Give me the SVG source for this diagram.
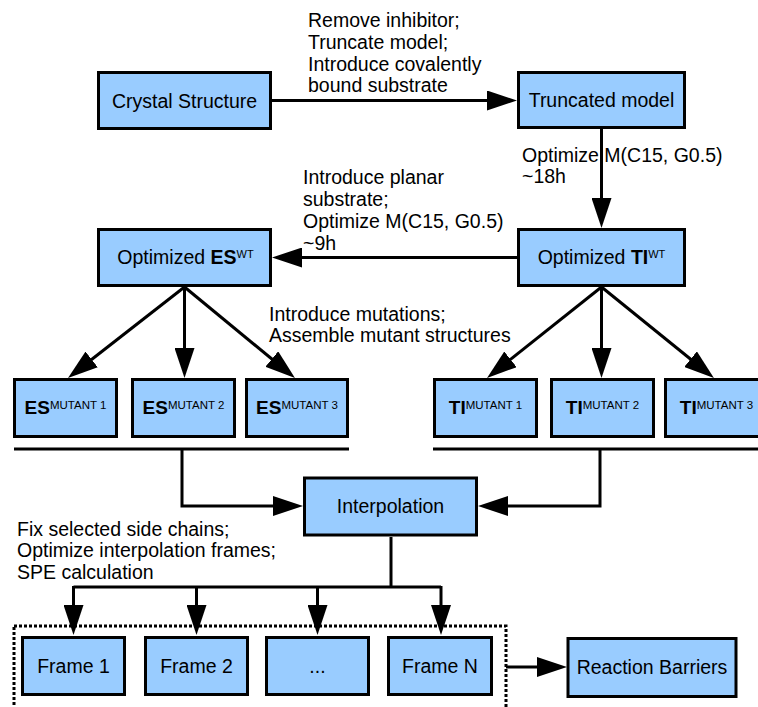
<svg xmlns="http://www.w3.org/2000/svg" width="758" height="707" viewBox="0 0 758 707">
<style>
text{font-family:"Liberation Sans",Arial,Helvetica,sans-serif;font-size:19.5px;fill:#000}
.box{fill:#99ccff;stroke:#000;stroke-width:3}
.lbl{text-anchor:middle}
.b{font-weight:bold}
.sup{font-size:11px}
.msup{font-size:11.5px}
.mb{font-weight:bold;font-size:19px}
.c{fill:none;stroke:#000;stroke-width:3}
.arr{marker-end:url(#ah)}
.dot{fill:none;stroke:#000;stroke-width:3;stroke-dasharray:3 2}
</style>
<defs>
<marker id="ah" viewBox="0 0 30 20" markerWidth="30" markerHeight="20" refX="22" refY="10" orient="auto" markerUnits="userSpaceOnUse">
<path d="M0,0 L30,10 L0,20 z" fill="#000"/>
</marker>
</defs>

<g id="connectors">
<path class="c arr" d="M272,100.5 H509"/>
<path class="c arr" d="M601.5,129 V220"/>
<path class="c arr" d="M517,257.5 H280"/>
<path class="c arr" d="M184.5,287 L74.3,373"/>
<path class="c arr" d="M184.5,287 V370"/>
<path class="c arr" d="M184.5,287 L288.8,373"/>
<path class="c arr" d="M601.5,287 L493.3,373"/>
<path class="c arr" d="M601.5,287 V370"/>
<path class="c arr" d="M601.5,287 L707.7,373"/>
<path class="c" d="M14,449 H349"/>
<path class="c" d="M433,449 H758"/>
<path class="c arr" d="M182,449 V506 H295"/>
<path class="c arr" d="M600,449 V506 H486"/>
<path class="c" d="M391,537 V587"/>
<path class="c" d="M73.5,587 H441"/>
<path class="c arr" d="M73.5,586 V627"/>
<path class="c arr" d="M196.5,586 V627"/>
<path class="c arr" d="M317.5,586 V627"/>
<path class="c arr" d="M441,586 V627"/>
<path class="c arr" d="M506,667 H559"/>
<rect class="dot" x="14" y="626" width="492" height="100"/>
</g>

<g id="edge-labels">
<text x="308" y="27">Remove inhibitor;</text>
<text x="308" y="49">Truncate model;</text>
<text x="308" y="70.5">Introduce covalently</text>
<text x="308" y="92">bound substrate</text>
<text x="522" y="162">Optimize M(C15, G0.5)</text>
<text x="522" y="183">~18h</text>
<text x="303" y="184">Introduce planar</text>
<text x="303" y="206">substrate;</text>
<text x="303" y="228">Optimize M(C15, G0.5)</text>
<text x="303" y="249.5">~9h</text>
<text x="269" y="320.5">Introduce mutations;</text>
<text x="269" y="342">Assemble mutant structures</text>
<text x="17" y="535.5">Fix selected side chains;</text>
<text x="17" y="557">Optimize interpolation frames;</text>
<text x="17" y="579">SPE calculation</text>
</g>

<g id="crystal"><rect class="box" x="98.5" y="72.5" width="172" height="56"/><text class="lbl" x="184.5" y="107.5">Crystal Structure</text></g>
<g id="truncated"><rect class="box" x="518.5" y="72.5" width="166" height="55"/><text class="lbl" x="601.5" y="107">Truncated model</text></g>
<g id="es-wt"><rect class="box" x="98.5" y="229.5" width="172" height="56"/><text class="lbl" x="185.5" y="263.5">Optimized <tspan class="b">ES</tspan><tspan class="sup" dy="-6">WT</tspan></text></g>
<g id="ti-wt"><rect class="box" x="518.5" y="229.5" width="166" height="56"/><text class="lbl" x="601.5" y="263.5">Optimized <tspan class="b">TI</tspan><tspan class="sup" dy="-6">WT</tspan></text></g>

<g id="es-m1"><rect class="box" x="14.5" y="379.5" width="102" height="57"/><text class="lbl" x="65.5" y="414"><tspan class="mb">ES</tspan><tspan class="msup" dy="-5">MUTANT 1</tspan></text></g>
<g id="es-m2"><rect class="box" x="132.5" y="379.5" width="102" height="57"/><text class="lbl" x="183.5" y="414"><tspan class="mb">ES</tspan><tspan class="msup" dy="-5">MUTANT 2</tspan></text></g>
<g id="es-m3"><rect class="box" x="246.5" y="379.5" width="101" height="57"/><text class="lbl" x="297" y="414"><tspan class="mb">ES</tspan><tspan class="msup" dy="-5">MUTANT 3</tspan></text></g>
<g id="ti-m1"><rect class="box" x="434.5" y="379.5" width="102" height="57"/><text class="lbl" x="485.5" y="414"><tspan class="mb">TI</tspan><tspan class="msup" dy="-5">MUTANT 1</tspan></text></g>
<g id="ti-m2"><rect class="box" x="551.5" y="379.5" width="102" height="57"/><text class="lbl" x="602.5" y="414"><tspan class="mb">TI</tspan><tspan class="msup" dy="-5">MUTANT 2</tspan></text></g>
<g id="ti-m3"><rect class="box" x="665.5" y="379.5" width="102" height="57"/><text class="lbl" x="716.5" y="414"><tspan class="mb">TI</tspan><tspan class="msup" dy="-5">MUTANT 3</tspan></text></g>

<g id="interpolation"><rect class="box" x="304.5" y="478" width="172" height="57"/><text class="lbl" x="390.5" y="513">Interpolation</text></g>

<g id="frame1"><rect class="box" x="22.5" y="637.5" width="102" height="57"/><text class="lbl" x="73.5" y="672.5">Frame 1</text></g>
<g id="frame2"><rect class="box" x="145.5" y="637.5" width="102" height="57"/><text class="lbl" x="196.5" y="672.5">Frame 2</text></g>
<g id="frame-dots"><rect class="box" x="266.5" y="637.5" width="102" height="57"/><text class="lbl" x="317.5" y="672.5">...</text></g>
<g id="frameN"><rect class="box" x="388.5" y="637.5" width="103" height="57"/><text class="lbl" x="440" y="672.5">Frame N</text></g>
<g id="barriers"><rect class="box" x="568" y="638.5" width="168" height="58"/><text class="lbl" x="652" y="674">Reaction Barriers</text></g>
</svg>
